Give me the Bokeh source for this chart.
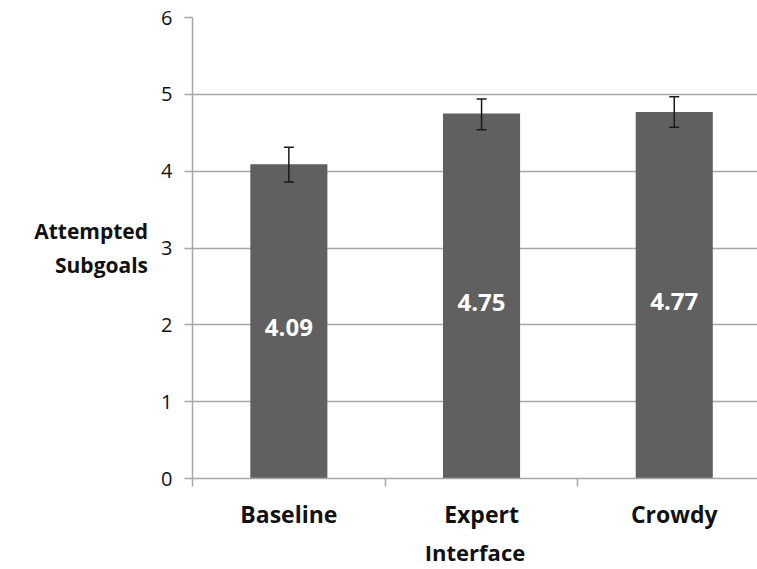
from bokeh.plotting import figure
from bokeh.models import ColumnDataSource, FixedTicker, Range1d, Whisker, LabelSet
from bokeh.core.properties import value
from bokeh.embed import file_html
from bokeh.resources import INLINE

categories = ["Baseline", "Expert", "Crowdy"]
means = [4.09, 4.75, 4.77]
err_low = [3.86, 4.54, 4.57]
err_high = [4.31, 4.94, 4.97]
value_labels = ["4.09", "4.75", "4.77"]
y_ticks = [0, 1, 2, 3, 4, 5, 6]

xpos = [i + 1 for i in range(len(categories))]
src = ColumnDataSource(dict(x=xpos, top=means, lo=err_low, hi=err_high,
                            lab=value_labels, mid=[m / 2 for m in means]))

FONT = "Open Sans"
p = figure(width=757, height=569, output_backend="svg", toolbar_location=None,
           x_range=Range1d(0.5, 3.432), y_range=Range1d(0, 6),
           min_border_left=192, min_border_right=0, min_border_top=17, min_border_bottom=91)
p.outline_line_color = None

p.vbar(x="x", top="top", width=0.4, bottom=0, source=src, fill_color="#606060", line_color=None)
w = Whisker(source=src, base="x", lower="lo", upper="hi", line_color="#1a1a1a", line_width=1.5,
            level="overlay")
for h in (w.upper_head, w.lower_head):
    h.line_color = "#1a1a1a"
    h.size = 10
    h.line_width = 1.5
p.add_layout(w)

labels = LabelSet(x="x", y="mid", text="lab", source=src, text_color="white",
                  text_font=value(FONT), text_font_size="24px", text_font_style="bold",
                  text_align="center", text_baseline="middle", y_offset=-6)
p.add_layout(labels)

# axes
p.xgrid.grid_line_color = None
p.ygrid.grid_line_color = "#a6a6a6"
p.ygrid.grid_line_width = 1.5
p.ygrid.ticker = FixedTicker(ticks=y_ticks)

p.yaxis.ticker = FixedTicker(ticks=y_ticks, minor_ticks=[])
p.yaxis.axis_line_color = "#a6a6a6"
p.yaxis.axis_line_width = 1.5
p.yaxis.major_tick_line_color = "#a6a6a6"
p.yaxis.major_tick_line_width = 1.5
p.yaxis.major_tick_out = 8
p.yaxis.major_tick_in = 0
p.yaxis.major_label_standoff = 12
p.yaxis.major_label_text_font = FONT
p.yaxis.major_label_text_font_size = "20px"
p.yaxis.major_label_text_color = "#111111"
p.yaxis.axis_label = "Attempted\nSubgoals"
p.yaxis.axis_label_orientation = "horizontal"
p.yaxis.axis_label_text_font = FONT
p.yaxis.axis_label_text_font_size = "21px"
p.yaxis.axis_label_text_font_style = "bold"
p.yaxis.axis_label_text_color = "#111111"
p.yaxis.axis_label_text_align = "center"
p.yaxis.axis_label_standoff = 10

p.xaxis.ticker = FixedTicker(ticks=xpos, minor_ticks=[0.5, 1.5, 2.5])
p.xaxis.major_label_overrides = {x: c for x, c in zip(xpos, categories)}
p.xaxis.axis_line_color = "#a6a6a6"
p.xaxis.axis_line_width = 1.5
p.xaxis.major_tick_line_color = None
p.xaxis.major_tick_out = 0
p.xaxis.major_tick_in = 0
p.xaxis.minor_tick_line_color = "#a6a6a6"
p.xaxis.minor_tick_line_width = 1.5
p.xaxis.minor_tick_out = 8
p.xaxis.minor_tick_in = 0
p.xaxis.major_label_standoff = 11
p.xaxis.major_label_text_font = FONT
p.xaxis.major_label_text_font_size = "23px"
p.xaxis.major_label_text_font_style = "bold"
p.xaxis.major_label_text_color = "#111111"
p.xaxis.axis_label = "Interface"
p.xaxis.axis_label_text_font = FONT
p.xaxis.axis_label_text_font_size = "22px"
p.xaxis.axis_label_text_font_style = "bold"
p.xaxis.axis_label_text_color = "#111111"
p.xaxis.axis_label_standoff = 4

open("out.html", "w").write(file_html(p, INLINE))
